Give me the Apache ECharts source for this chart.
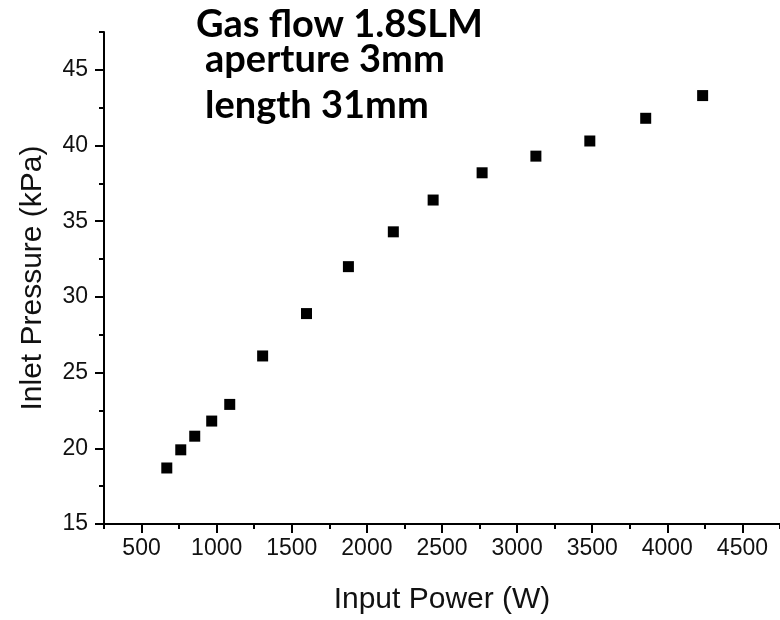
<!DOCTYPE html>
<html>
<head>
<meta charset="utf-8">
<script src="https://cdn.jsdelivr.net/npm/echarts@6/dist/echarts.min.js"></script>
<style>
html,body{margin:0;padding:0;background:#fff;}
#chart{width:780px;height:620px;}
</style>
</head>
<body>
<div id="chart"></div>
<script>
// Data
var power = [668, 761, 854, 967, 1087, 1306, 1598, 1877, 2176, 2441, 2767, 3125, 3484, 3856, 4235];
var pressure = [18.7, 19.9, 20.8, 21.8, 22.9, 26.1, 28.9, 32.0, 34.3, 36.4, 38.2, 39.3, 40.3, 41.8, 43.3];
var xMajorTicks = [500, 1000, 1500, 2000, 2500, 3000, 3500, 4000, 4500];
var xMinorTicks = [250, 750, 1250, 1750, 2250, 2750, 3250, 3750, 4250, 4750];
var yMajorTicks = [15, 20, 25, 30, 35, 40, 45];
var yMinorTicks = [17.5, 22.5, 27.5, 32.5, 37.5, 42.5, 47.5];
var annotations = ['Gas flow 1.8SLM', 'aperture 3mm', 'length 31mm'];
var xName = 'Input Power (W)';
var yName = 'Inlet Pressure (kPa)';

var points = power.map(function (p, i) { return [p, pressure[i]]; });

var chart = echarts.init(document.getElementById('chart'), null, {renderer: 'canvas'});
var axisFont = '"Liberation Sans", Arial, sans-serif';
var titleFont = 'Lato, "Open Sans", sans-serif';
function plain(v) { return String(v); }

var option = {
  animation: false,
  backgroundColor: '#ffffff',
  grid: {left: 104, top: 32, right: -2, bottom: 94, containLabel: false},
  xAxis: [{
    type: 'value', min: 250, max: 4750,
    name: xName, nameLocation: 'middle', nameGap: 61,
    nameTextStyle: {fontFamily: axisFont, fontSize: 30, color: '#111'},
    axisLine: {show: true, onZero: false, lineStyle: {color: '#000', width: 2}},
    axisTick: {show: true, inside: false, length: 9, customValues: xMajorTicks, lineStyle: {color: '#000', width: 2}},
    axisLabel: {show: true, margin: 13, customValues: xMajorTicks, formatter: plain, fontFamily: axisFont, fontSize: 23, color: '#111'},
    splitLine: {show: false}
  }, {
    type: 'value', min: 250, max: 4750, gridIndex: 0, position: 'bottom',
    axisLine: {show: false},
    axisTick: {show: true, inside: false, length: 5, customValues: xMinorTicks, lineStyle: {color: '#000', width: 2}},
    axisLabel: {show: false},
    splitLine: {show: false}
  }],
  yAxis: [{
    type: 'value', min: 15, max: 47.5,
    name: yName, nameLocation: 'middle', nameGap: 56, nameRotate: 90,
    nameTextStyle: {fontFamily: axisFont, fontSize: 30, color: '#111'},
    axisLine: {show: true, onZero: false, lineStyle: {color: '#000', width: 2}},
    axisTick: {show: true, inside: false, length: 9, customValues: yMajorTicks, lineStyle: {color: '#000', width: 2}},
    axisLabel: {show: true, margin: 16, customValues: yMajorTicks, formatter: plain, fontFamily: axisFont, fontSize: 23, color: '#111'},
    splitLine: {show: false}
  }, {
    type: 'value', min: 15, max: 47.5, position: 'left',
    axisLine: {show: false},
    axisTick: {show: true, inside: false, length: 5, customValues: yMinorTicks, lineStyle: {color: '#000', width: 2}},
    axisLabel: {show: false},
    splitLine: {show: false}
  }],
  series: [{
    type: 'scatter',
    xAxisIndex: 0, yAxisIndex: 0,
    data: points,
    symbol: 'rect',
    symbolSize: 11,
    itemStyle: {color: '#000', opacity: 1}
  }],
  graphic: [
    {type: 'text', left: 196, top: 6, style: {text: annotations[0], font: 'bold 38px ' + titleFont, fill: '#000'}},
    {type: 'text', left: 205, top: 41, style: {text: annotations[1], font: 'bold 38px ' + titleFont, fill: '#000'}},
    {type: 'text', left: 205, top: 87, style: {text: annotations[2], font: 'bold 38px ' + titleFont, fill: '#000'}}
  ]
};
chart.setOption(option);
</script>
</body>
</html>
